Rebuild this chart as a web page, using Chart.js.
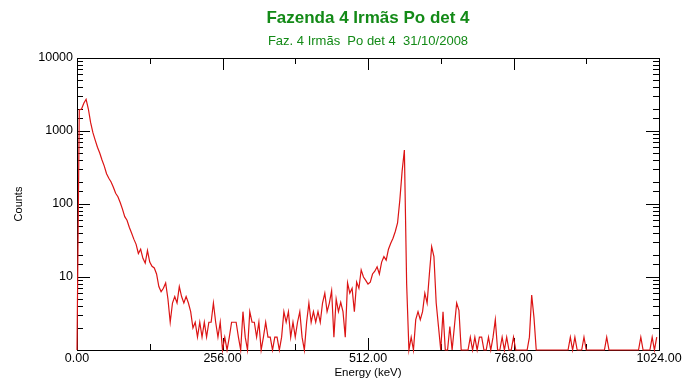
<!DOCTYPE html>
<html>
<head>
<meta charset="utf-8">
<script src="https://cdn.jsdelivr.net/npm/chart.js@4.4.1/dist/chart.umd.min.js"></script>
<style>
  html, body { margin: 0; padding: 0; background: #fff; }
  #wrap { width: 687px; height: 381px; }
</style>
</head>
<body>
<div id="wrap"><canvas id="espectro"></canvas></div>
<script>
var titulo = 'Fazenda 4 Irmãs Po det 4';
var subtitulo = 'Faz. 4 Irmãs  Po det 4  31/10/2008';
var larguraCanal = 4; // keV por canal
var marcasEnergia = [0, 256, 512, 768, 1024];

// contagens, um valor por canal de 4 keV (0 a 1020 keV)
var contagens = [
  1, 1950, 2000, 2400, 2720, 2000, 1300, 950, 750, 600,
  500, 400, 330, 260, 225, 200, 170, 140, 126, 105,
  85, 67, 60, 48, 40, 33, 28, 21, 24, 18,
  15.5, 23, 16, 14, 13.3, 11, 7.4, 6.3, 7, 8.3,
  5, 2.4, 4.4, 5.4, 4.4, 7.4, 5.4, 4.4, 5.4, 4.4,
  3.35, 2, 2.4, 1.5, 2.4, 1.5, 2.4, 1.5, 2.4, 2.4,
  4.4, 2.4, 1.5, 2.4, 1, 1.5, 1, 1.5, 2.4, 2.4,
  2.4, 1.5, 1, 3.35, 1.5, 1, 3.35, 2.4, 2.4, 1.5,
  2.4, 1, 1.5, 2.4, 1.5, 1.5, 1, 1.5, 1.5, 1,
  1.5, 3.35, 2.4, 3.35, 1.5, 2.4, 1.5, 2.4, 3.35, 1.5,
  1, 2.4, 4.4, 2.4, 3.35, 2.4, 3.35, 2.4, 4.4, 6,
  3.35, 4.4, 6.5, 1.5, 5, 3.35, 4.5, 3.35, 1.5, 8.3,
  6, 7, 3.35, 8.5, 7, 12.5, 10, 9, 8, 8.5,
  11, 12, 13.8, 11, 16, 19, 17, 24, 29, 34,
  42, 55, 113, 280, 550, 8, 1, 1.5, 1, 2.6,
  3.35, 2.6, 3.35, 6, 4.4, 11, 26, 19, 4.4, 2.1,
  1, 3.35, 1, 1, 2.1, 1, 2.1, 4.4, 3.5, 1,
  1, 1, 1, 1.5, 1, 1.5, 1, 1.5, 1.5, 1,
  1, 1.5, 1, 1.5, 2.6, 1, 1, 1.5, 1, 1.5,
  1, 1, 1.5, 1, 1, 1, 1, 1, 1, 1.5,
  5.65, 2.8, 1, 1, 1, 1, 1, 1, 1, 1,
  1, 1, 1, 1, 1, 1, 1, 1.5, 1, 1.5,
  1, 1, 1, 1.5, 1, 1, 1, 1, 1, 1,
  1, 1, 1, 1.5, 1, 1, 1, 1, 1, 1,
  1, 1, 1, 1, 1, 1, 1, 1, 1.5, 1,
  1, 1, 1, 1.5, 1, 1.5
];

var pontos = contagens.map(function (c, i) { return { x: i * larguraCanal, y: c }; });

var fonteEixo = "'Liberation Sans', Arial, sans-serif";

function potenciaDeDez(v) {
  var l = Math.log10(v);
  return Math.abs(l - Math.round(l)) < 1e-9;
}

const moldura = {
  id: 'moldura',
  beforeDatasetsDraw(chart) {
    const { ctx, chartArea: a, scales: { x, y } } = chart;
    ctx.save();
    ctx.strokeStyle = '#000';
    ctx.lineWidth = 1;
    ctx.strokeRect(Math.round(a.left) + 0.5, Math.round(a.top) + 0.5,
      Math.round(a.right - a.left), Math.round(a.bottom - a.top));
    ctx.beginPath();
    x.ticks.forEach(function (t) {
      var px = Math.round(x.getPixelForValue(t.value)) + 0.5;
      var len = t.value % 256 === 0 ? 12 : 6;
      ctx.moveTo(px, a.bottom); ctx.lineTo(px, a.bottom - len);
      ctx.moveTo(px, a.top); ctx.lineTo(px, a.top + len);
    });
    y.ticks.forEach(function (t) {
      var py = Math.round(y.getPixelForValue(t.value)) + 0.5;
      var len = potenciaDeDez(t.value) ? 13 : 6;
      ctx.moveTo(a.left, py); ctx.lineTo(a.left + len, py);
      ctx.moveTo(a.right, py); ctx.lineTo(a.right - len, py);
    });
    ctx.stroke();
    ctx.restore();
  },
  afterDraw(chart) {
    const { ctx, chartArea: a } = chart;
    var cx = (a.left + a.right) / 2;
    ctx.save();
    ctx.textAlign = 'center';
    ctx.textBaseline = 'middle';
    ctx.fillStyle = '#138a17';
    ctx.font = "bold 17px " + fonteEixo;
    ctx.fillText(titulo, cx, 18);
    ctx.font = "13px " + fonteEixo;
    ctx.fillText(subtitulo, cx, 41);
    ctx.restore();
  }
};

var ctx = document.getElementById('espectro').getContext('2d');
var grafico = new Chart(ctx, {
  type: 'line',
  data: {
    datasets: [{
      label: 'Counts',
      data: pontos,
      borderColor: '#dc1414',
      borderWidth: 1.2,
      pointRadius: 0,
      tension: 0,
      fill: false,
      clip: false
    }]
  },
  options: {
    responsive: true,
    maintainAspectRatio: false,
    animation: false,
    layout: { padding: { top: 58, right: 28, left: 0, bottom: 0 } },
    plugins: {
      legend: { display: false },
      tooltip: { enabled: false }
    },
    scales: {
      x: {
        type: 'linear',
        min: 0,
        max: 1024,
        afterFit: function (s) { s.height = 31; },
        afterBuildTicks: function (s) {
          var t = [];
          for (var v = 0; v <= 1024; v += 128) t.push({ value: v });
          s.ticks = t;
        },
        ticks: {
          autoSkip: false,
          maxRotation: 0,
          padding: 1,
          color: '#000',
          font: { family: fonteEixo, size: 12.5 },
          callback: function (v) { return marcasEnergia.indexOf(v) >= 0 ? v.toFixed(2) : ''; }
        },
        grid: { display: false, drawTicks: false },
        border: { display: false },
        title: {
          display: true,
          text: 'Energy (keV)',
          color: '#000',
          font: { family: fonteEixo, size: 11.5 },
          padding: { top: 0, bottom: 1 }
        }
      },
      y: {
        type: 'logarithmic',
        min: 1,
        max: 10000,
        afterFit: function (s) { s.width = 77; },
        ticks: {
          autoSkip: false,
          padding: 4,
          color: '#000',
          font: { family: fonteEixo, size: 12.5 },
          callback: function (v) { return (potenciaDeDez(v) && v > 1) ? String(v) : ''; }
        },
        grid: { display: false, drawTicks: false },
        border: { display: false },
        title: {
          display: true,
          text: 'Counts',
          color: '#000',
          font: { family: fonteEixo, size: 11 },
          padding: { top: 12, bottom: 0 }
        }
      }
    }
  },
  plugins: [moldura]
});
</script>
</body>
</html>
